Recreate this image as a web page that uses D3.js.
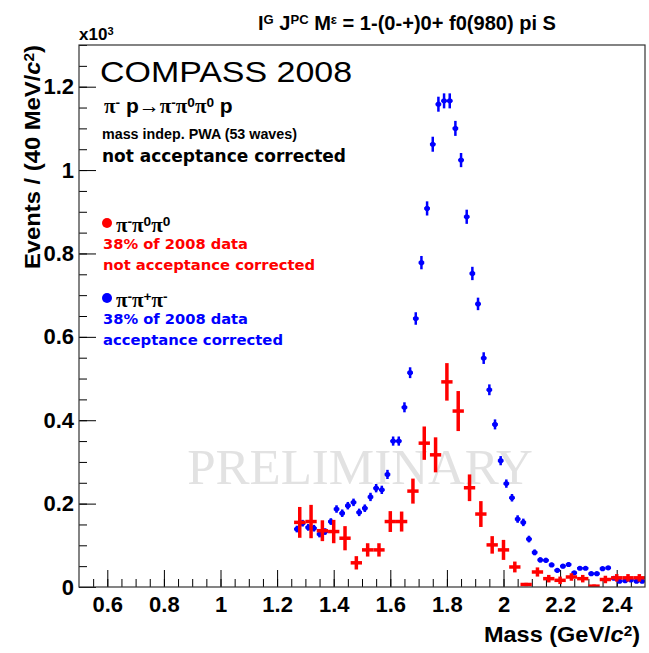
<!DOCTYPE html>
<html lang="en">
<head>
<meta charset="UTF-8">
<title>COMPASS 2008 f0(980) pi S</title>
<script src="https://d3js.org/d3.v7.min.js"></script>
<style>
    body { margin: 0; background: #fff; }
    text { font-family: "Liberation Sans", Arial, sans-serif; }
</style>
</head>
<body>
<svg id="chart"></svg>
<script>
    // pi- pi0 pi0, 40 MeV bins, not acceptance corrected
    const redMass = [1.28, 1.32, 1.36, 1.40, 1.44, 1.48, 1.52, 1.56, 1.60, 1.64, 1.68, 1.72, 1.76, 1.80, 1.84, 1.88,
        1.92, 1.96, 2.00, 2.04, 2.08, 2.12, 2.16, 2.20, 2.24, 2.28, 2.32, 2.36, 2.40, 2.44, 2.48];
    const redEvents = [155, 157, 135, 133, 117, 58, 89, 89, 157, 157, 230, 345, 317, 492, 422, 238,
        175, 101, 89, 48, 6, 36, 20, 16, 24, 20, 2, 18, 22, 22, 22];
    const redErr = [37, 40, 25, 28, 29, 16, 16, 16, 25, 24, 30, 40, 42, 45, 48, 32,
        31, 21, 24, 13, 4, 11, 9, 9, 9, 9, 4, 9, 9, 9, 9];

    // pi- pi+ pi-, 20 MeV bins, acceptance corrected
    const blueMass = [1.27, 1.29, 1.31, 1.33, 1.35, 1.37, 1.39, 1.41, 1.43, 1.45, 1.47, 1.49, 1.51, 1.53, 1.55, 1.57,
        1.59, 1.61, 1.63, 1.65, 1.67, 1.69, 1.71, 1.73, 1.75, 1.77, 1.79, 1.81, 1.83, 1.85, 1.87, 1.89,
        1.91, 1.93, 1.95, 1.97, 1.99, 2.01, 2.03, 2.05, 2.07, 2.09, 2.11, 2.13, 2.15, 2.17, 2.19, 2.21,
        2.23, 2.25, 2.27, 2.29, 2.31, 2.33, 2.35, 2.37, 2.39, 2.41, 2.43, 2.45, 2.47, 2.49];
    const blueEvents = [139, 153, 143, 141, 127, 133, 157, 187, 177, 195, 203, 179, 189, 216, 237, 233,
        270, 350, 350, 431, 514, 644, 778, 908, 1062, 1158, 1166, 1166, 1100, 1024, 888, 752,
        679, 549, 473, 390, 303, 248, 214, 163, 155, 115, 83, 65, 64, 53, 40, 50,
        54, 34, 45, 45, 32, 32, 44, 46, 21, 14, 15, 17, 14, 14];
    const blueErr = [8, 8, 8, 8, 8, 8, 8, 9, 9, 9, 9, 9, 9, 10, 10, 10,
        11, 11, 11, 12, 13, 15, 16, 17, 18, 18, 18, 18, 18, 17, 17, 16,
        15, 14, 13, 12, 11, 10, 9, 9, 9, 8, 7, 6, 6, 5, 5, 5,
        5, 4, 4, 4, 4, 4, 4, 4, 3, 3, 3, 3, 3, 3];

    const yTicks = [0, 200, 400, 600, 800, 1000, 1200];
    const yTickLabels = ["0", "0.2", "0.4", "0.6", "0.8", "1", "1.2"];
    const xTicks = [0.6, 0.8, 1.0, 1.2, 1.4, 1.6, 1.8, 2.0, 2.2, 2.4];
    const xTickLabels = ["0.6", "0.8", "1", "1.2", "1.4", "1.6", "1.8", "2", "2.2", "2.4"];

    const width = 649, height = 653;
    const plotLeft = 79, plotRight = 645, plotTop = 45, plotBottom = 587;

    const svg = d3.select('#chart').attr('width', width).attr('height', height);

    const x = d3.scaleLinear().domain([0.5, 2.5]).range([plotLeft, plotRight]);
    const y = d3.scaleLinear().domain([0, 1300]).range([plotBottom, plotTop]);

    // rich text helper: segments {t, sup, it, serif}
    function rich(g, px, py, segs, opts) {
        const t = g.append('text').attr('x', px).attr('y', py)
            .attr('font-size', opts.size).attr('font-weight', opts.weight || 'normal')
            .attr('fill', opts.fill || '#000');
        if (opts.family) t.style('font-family', opts.family);
        if (opts.anchor) t.attr('text-anchor', opts.anchor);
        if (opts.transform) t.attr('transform', opts.transform);
        if (opts.len) t.attr('textLength', opts.len).attr('lengthAdjust', 'spacingAndGlyphs');
        segs.forEach(s => {
            const sp = t.append('tspan').text(s.t);
            if (s.sup) sp.attr('baseline-shift', s.shift || '45%').attr('font-size', opts.size * 0.65);
            if (s.it) sp.attr('font-style', 'italic');
            if (s.serif) sp.style('font-family', '"Liberation Serif", serif');
        });
        return t;
    }

    // watermark
    svg.append('text')
        .attr('x', 360).attr('y', 484)
        .attr('text-anchor', 'middle')
        .attr('font-size', 51)
        .attr('fill', '#e2e2e2')
        .style('font-family', '"Liberation Serif", "Times New Roman", serif')
        .text('PRELIMINARY');

    // ticks
    const yMinor = d3.range(0, 1301, 50);
    const xMinor = d3.range(0.55, 2.5, 0.05);

    svg.append('g').attr('transform', `translate(${plotLeft},0)`)
        .call(d3.axisLeft(y).tickValues(yMinor).tickSizeInner(-8).tickSizeOuter(0).tickFormat(''))
        .call(g => g.select('.domain').remove());
    svg.append('g').attr('transform', `translate(${plotLeft},0)`)
        .call(d3.axisLeft(y).tickValues(yTicks).tickSizeInner(-17).tickSizeOuter(0).tickPadding(5)
            .tickFormat((d, i) => yTickLabels[i]))
        .call(g => g.select('.domain').remove())
        .call(g => g.selectAll('text').attr('font-size', 22).attr('font-weight', 'bold')
            .style('font-family', '"Liberation Sans", Arial, sans-serif').attr('fill', '#000'));

    svg.append('g').attr('transform', `translate(0,${plotBottom})`)
        .call(d3.axisBottom(x).tickValues(xMinor).tickSizeInner(-8).tickSizeOuter(0).tickFormat(''))
        .call(g => g.select('.domain').remove());
    svg.append('g').attr('transform', `translate(0,${plotBottom})`)
        .call(d3.axisBottom(x).tickValues(xTicks).tickSizeInner(-17).tickSizeOuter(0).tickPadding(9)
            .tickFormat((d, i) => xTickLabels[i]))
        .call(g => g.select('.domain').remove())
        .call(g => g.selectAll('text').attr('font-size', 22).attr('font-weight', 'bold')
            .style('font-family', '"Liberation Sans", Arial, sans-serif').attr('fill', '#000'));

    svg.selectAll('.tick line').attr('stroke', '#000').attr('stroke-width', 1);

    // data
    svg.append('clipPath').attr('id', 'plotclip').append('rect')
        .attr('x', plotLeft).attr('y', plotTop).attr('width', plotRight - plotLeft).attr('height', plotBottom - plotTop);
    const plot = svg.append('g').attr('clip-path', 'url(#plotclip)');

    const blue = blueMass.map((m, i) => ({ m, v: blueEvents[i], e: blueErr[i] }));
    const red = redMass.map((m, i) => ({ m, v: redEvents[i], e: redErr[i] }));

    const bg = plot.append('g').attr('stroke', '#0000ff').attr('stroke-width', 2.5);
    bg.selectAll('.bv').data(blue).enter().append('line')
        .attr('x1', d => x(d.m)).attr('x2', d => x(d.m))
        .attr('y1', d => y(d.v - d.e)).attr('y2', d => y(d.v + d.e));
    bg.selectAll('.bh').data(blue).enter().append('line')
        .attr('x1', d => x(d.m - 0.01)).attr('x2', d => x(d.m + 0.01))
        .attr('y1', d => y(d.v)).attr('y2', d => y(d.v));
    plot.append('g').selectAll('circle').data(blue).enter().append('circle')
        .attr('cx', d => x(d.m)).attr('cy', d => y(d.v)).attr('r', 2.6).attr('fill', '#0000ff');

    const rg = plot.append('g').attr('stroke', '#ff0000').attr('stroke-width', 3.5);
    rg.selectAll('.rv').data(red).enter().append('line')
        .attr('x1', d => x(d.m)).attr('x2', d => x(d.m))
        .attr('y1', d => y(d.v - d.e)).attr('y2', d => y(d.v + d.e));
    rg.selectAll('.rh').data(red).enter().append('line')
        .attr('x1', d => x(d.m - 0.02)).attr('x2', d => x(d.m + 0.02))
        .attr('y1', d => y(d.v)).attr('y2', d => y(d.v));

    // frame
    svg.append('rect').attr('x', plotLeft).attr('y', plotTop)
        .attr('width', plotRight - plotLeft).attr('height', plotBottom - plotTop)
        .attr('fill', 'none').attr('stroke', '#333').attr('stroke-width', 1.2);

    // title
    rich(svg, 258, 30, [
        { t: 'I' }, { t: 'G', sup: true }, { t: ' J' }, { t: 'PC', sup: true }, { t: ' M' }, { t: 'ε', sup: true },
        { t: ' = 1-(0-+)0+ f0(980) pi S' }
    ], { size: 20, weight: 'bold', len: 298 });

    // exponent
    rich(svg, 79, 40, [{ t: 'x10' }, { t: '3', sup: true }], { size: 17, weight: 'bold' });

    // axis titles
    rich(svg, 640, 642, [{ t: 'Mass (GeV/' }, { t: 'c', it: true }, { t: '2', sup: true }, { t: ')' }],
        { size: 22, weight: 'bold', anchor: 'end', len: 156 });
    rich(svg, 0, 0, [{ t: 'Events / (40 MeV/' }, { t: 'c', it: true }, { t: '2', sup: true }, { t: ')' }],
        { size: 22, weight: 'bold', anchor: 'end', transform: 'translate(40,45) rotate(-90)', len: 224 });

    // annotations
    svg.append('text').attr('x', 100).attr('y', 82).attr('font-size', 29)
        .attr('textLength', 252).attr('lengthAdjust', 'spacingAndGlyphs').text('COMPASS 2008');
    rich(svg, 104, 113, [
        { t: 'π', serif: true }, { t: '-', sup: true }, { t: ' p→' }, { t: 'π', serif: true }, { t: '-', sup: true },
        { t: 'π', serif: true }, { t: '0', sup: true }, { t: 'π', serif: true }, { t: '0', sup: true }, { t: ' p' }
    ], { size: 21, weight: 'bold' });
    svg.append('text').attr('x', 102).attr('y', 139).attr('font-size', 14).attr('font-weight', 'bold')
        .attr('textLength', 195).attr('lengthAdjust', 'spacingAndGlyphs')
        .text('mass indep. PWA (53 waves)');
    svg.append('text').attr('x', 102).attr('y', 162).attr('font-size', 17).attr('font-weight', 'bold')
        .attr('textLength', 244).attr('lengthAdjust', 'spacingAndGlyphs')
        .style('font-family', '"DejaVu Sans", sans-serif').text('not acceptance corrected');

    // legend
    const legend = [
        { y: 223, color: '#ff0000', charge: ['-', '0', '0'], lines: ['38% of 2008 data', 'not acceptance corrected'], len: [145, 212] },
        { y: 298, color: '#0000ff', charge: ['-', '+', '-'], lines: ['38% of 2008 data', 'acceptance corrected'], len: [145, 180] }
    ];
    legend.forEach(l => {
        svg.append('circle').attr('cx', 107).attr('cy', l.y).attr('r', 5).attr('fill', l.color);
        const segs = [];
        l.charge.forEach(c => { segs.push({ t: 'π', serif: true }); segs.push({ t: c, sup: true }); });
        rich(svg, 116, l.y + 9, segs, { size: 21, weight: 'bold' });
        l.lines.forEach((s, i) => {
            svg.append('text').attr('x', 103).attr('y', l.y + 26 + i * 21).attr('font-size', 14.5)
                .attr('font-weight', 'bold').attr('fill', l.color)
                .attr('textLength', l.len[i]).attr('lengthAdjust', 'spacingAndGlyphs')
                .style('font-family', '"DejaVu Sans", sans-serif').text(s);
        });
    });
</script>
</body>
</html>
